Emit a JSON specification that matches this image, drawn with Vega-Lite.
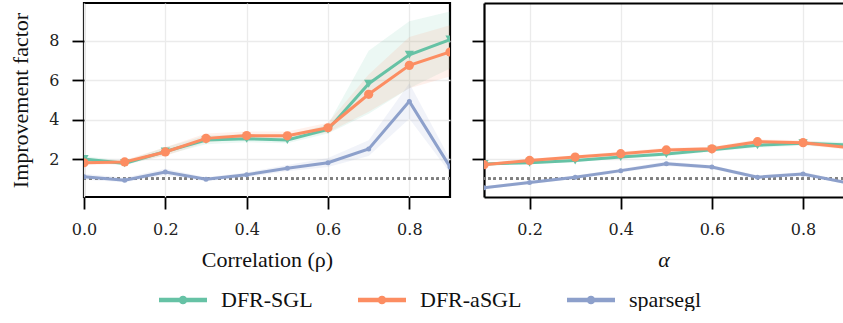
{
  "$schema": "https://vega.github.io/schema/vega-lite/v6.json",
  "padding": {"left": 8, "top": 1, "right": 0, "bottom": 0},
  "autosize": {"type": "pad"},
  "bounds": "flush",
  "spacing": 34,
  "config": {
    "font": "Liberation Serif",
    "view": {"stroke": "black", "strokeWidth": 2.2},
    "axis": {
      "domain": false, "grid": true, "gridColor": "#ebebeb", "gridWidth": 1.3,
      "tickColor": "black", "tickWidth": 1.8, "tickSize": 12,
      "labelFont": "DejaVu Serif", "labelFontSize": 16, "labelColor": "#222", "labelFlush": false,
      "titleFont": "Liberation Serif", "titleFontSize": 22, "titleFontWeight": "normal", "titleColor": "#111"
    }
  },
  "datasets": {
    "rho": [
      {"x": 0.0, "method": "DFR-SGL", "y": 2.0, "lo": 1.85, "hi": 2.15},
      {"x": 0.1, "method": "DFR-SGL", "y": 1.78, "lo": 1.68, "hi": 1.9},
      {"x": 0.2, "method": "DFR-SGL", "y": 2.38, "lo": 2.2, "hi": 2.6},
      {"x": 0.3, "method": "DFR-SGL", "y": 2.97, "lo": 2.75, "hi": 3.2},
      {"x": 0.4, "method": "DFR-SGL", "y": 3.03, "lo": 2.85, "hi": 3.25},
      {"x": 0.5, "method": "DFR-SGL", "y": 2.97, "lo": 2.8, "hi": 3.2},
      {"x": 0.6, "method": "DFR-SGL", "y": 3.5, "lo": 3.3, "hi": 3.75},
      {"x": 0.7, "method": "DFR-SGL", "y": 5.83, "lo": 4.3, "hi": 7.5},
      {"x": 0.8, "method": "DFR-SGL", "y": 7.3, "lo": 5.6, "hi": 9.0},
      {"x": 0.9, "method": "DFR-SGL", "y": 8.07, "lo": 6.6, "hi": 9.5},
      {"x": 0.0, "method": "DFR-aSGL", "y": 1.81, "lo": 1.7, "hi": 1.95},
      {"x": 0.1, "method": "DFR-aSGL", "y": 1.85, "lo": 1.75, "hi": 1.95},
      {"x": 0.2, "method": "DFR-aSGL", "y": 2.36, "lo": 2.15, "hi": 2.6},
      {"x": 0.3, "method": "DFR-aSGL", "y": 3.05, "lo": 2.85, "hi": 3.3},
      {"x": 0.4, "method": "DFR-aSGL", "y": 3.19, "lo": 3.0, "hi": 3.4},
      {"x": 0.5, "method": "DFR-aSGL", "y": 3.18, "lo": 3.0, "hi": 3.4},
      {"x": 0.6, "method": "DFR-aSGL", "y": 3.59, "lo": 3.35, "hi": 3.85},
      {"x": 0.7, "method": "DFR-aSGL", "y": 5.29, "lo": 4.4, "hi": 6.3},
      {"x": 0.8, "method": "DFR-aSGL", "y": 6.76, "lo": 5.6, "hi": 8.2},
      {"x": 0.9, "method": "DFR-aSGL", "y": 7.44, "lo": 6.2, "hi": 8.8},
      {"x": 0.0, "method": "sparsegl", "y": 1.1, "lo": 0.95, "hi": 1.25},
      {"x": 0.1, "method": "sparsegl", "y": 0.92, "lo": 0.82, "hi": 1.05},
      {"x": 0.2, "method": "sparsegl", "y": 1.34, "lo": 1.18, "hi": 1.5},
      {"x": 0.3, "method": "sparsegl", "y": 0.97, "lo": 0.87, "hi": 1.08},
      {"x": 0.4, "method": "sparsegl", "y": 1.2, "lo": 1.08, "hi": 1.32},
      {"x": 0.5, "method": "sparsegl", "y": 1.53, "lo": 1.38, "hi": 1.7},
      {"x": 0.6, "method": "sparsegl", "y": 1.81, "lo": 1.6, "hi": 2.05},
      {"x": 0.7, "method": "sparsegl", "y": 2.51, "lo": 2.15, "hi": 2.95},
      {"x": 0.8, "method": "sparsegl", "y": 4.93, "lo": 4.05, "hi": 5.85},
      {"x": 0.9, "method": "sparsegl", "y": 1.6, "lo": 1.3, "hi": 2.0}
    ],
    "alpha": [
      {"x": 0.1, "method": "DFR-SGL", "y": 1.75, "lo": 1.68, "hi": 1.83},
      {"x": 0.2, "method": "DFR-SGL", "y": 1.81, "lo": 1.73, "hi": 1.9},
      {"x": 0.3, "method": "DFR-SGL", "y": 1.93, "lo": 1.85, "hi": 2.02},
      {"x": 0.4, "method": "DFR-SGL", "y": 2.1, "lo": 2.01, "hi": 2.2},
      {"x": 0.5, "method": "DFR-SGL", "y": 2.25, "lo": 2.15, "hi": 2.36},
      {"x": 0.6, "method": "DFR-SGL", "y": 2.47, "lo": 2.37, "hi": 2.58},
      {"x": 0.7, "method": "DFR-SGL", "y": 2.7, "lo": 2.58, "hi": 2.82},
      {"x": 0.8, "method": "DFR-SGL", "y": 2.8, "lo": 2.68, "hi": 2.93},
      {"x": 0.9, "method": "DFR-SGL", "y": 2.72, "lo": 2.6, "hi": 2.85},
      {"x": 0.1, "method": "DFR-aSGL", "y": 1.71, "lo": 1.64, "hi": 1.79},
      {"x": 0.2, "method": "DFR-aSGL", "y": 1.93, "lo": 1.85, "hi": 2.02},
      {"x": 0.3, "method": "DFR-aSGL", "y": 2.1, "lo": 2.01, "hi": 2.19},
      {"x": 0.4, "method": "DFR-aSGL", "y": 2.27, "lo": 2.17, "hi": 2.37},
      {"x": 0.5, "method": "DFR-aSGL", "y": 2.46, "lo": 2.35, "hi": 2.57},
      {"x": 0.6, "method": "DFR-aSGL", "y": 2.52, "lo": 2.41, "hi": 2.63},
      {"x": 0.7, "method": "DFR-aSGL", "y": 2.88, "lo": 2.76, "hi": 3.0},
      {"x": 0.8, "method": "DFR-aSGL", "y": 2.83, "lo": 2.71, "hi": 2.95},
      {"x": 0.9, "method": "DFR-aSGL", "y": 2.58, "lo": 2.46, "hi": 2.7},
      {"x": 0.1, "method": "sparsegl", "y": 0.54, "lo": 0.47, "hi": 0.62},
      {"x": 0.2, "method": "sparsegl", "y": 0.81, "lo": 0.73, "hi": 0.9},
      {"x": 0.3, "method": "sparsegl", "y": 1.07, "lo": 0.98, "hi": 1.16},
      {"x": 0.4, "method": "sparsegl", "y": 1.41, "lo": 1.31, "hi": 1.51},
      {"x": 0.5, "method": "sparsegl", "y": 1.76, "lo": 1.65, "hi": 1.87},
      {"x": 0.6, "method": "sparsegl", "y": 1.59, "lo": 1.49, "hi": 1.69},
      {"x": 0.7, "method": "sparsegl", "y": 1.08, "lo": 0.99, "hi": 1.17},
      {"x": 0.8, "method": "sparsegl", "y": 1.24, "lo": 1.14, "hi": 1.34},
      {"x": 0.9, "method": "sparsegl", "y": 0.78, "lo": 0.7, "hi": 0.86}
    ]
  },
  "hconcat": [
    {
      "width": 366,
      "height": 194,
      "data": {"name": "rho"},
      "layer": [
        {
          "mark": {"type": "area", "opacity": 0.12, "clip": true},
          "encoding": {
            "x": {"field": "x", "type": "quantitative", "scale": {"domain": [0, 0.9], "nice": false, "zero": false},
                  "axis": {"values": [0, 0.2, 0.4, 0.6, 0.8], "format": ".1f", "title": "Correlation (ρ)", "titlePadding": 12, "labelPadding": 12, "labelFont": "DejaVu Serif"}},
            "y": {"field": "lo", "type": "quantitative", "stack": null, "scale": {"domain": [0.07, 9.93], "nice": false, "zero": false},
                  "axis": {"values": [2, 4, 6, 8], "title": "Improvement factor", "titlePadding": 16, "labelPadding": 13, "labelFont": "DejaVu Serif"}},
            "y2": {"field": "hi"},
            "color": {"field": "method", "type": "nominal", "scale": {"domain": ["DFR-SGL", "DFR-aSGL", "sparsegl"], "range": ["#66c2a5", "#fc8d62", "#8da0cb"]},
              "legend": {
                "orient": "bottom", "direction": "horizontal", "offset": 4,
                "title": " ", "titleOrient": "left", "titlePadding": 75, "titleFontSize": 22,
                "symbolType": "M-1,-0.09H1V0.09H-1ZM-0.18,0A0.18,0.18,0,1,1,0.18,0A0.18,0.18,0,1,1,-0.18,0Z",
                "symbolSize": 2304, "symbolOpacity": 1, "symbolStrokeWidth": 0,
                "labelFontSize": 22, "labelFont": "Liberation Serif", "labelColor": "#111",
                "labelOffset": 14, "columnPadding": 45, "padding": 0
              }
            }
          }
        },
        {
          "mark": {"type": "rule", "color": "#808080", "strokeWidth": 2, "strokeDash": [2, 3.6]},
          "encoding": {"y": {"datum": 1}}
        },
        {
          "mark": {"type": "line", "strokeWidth": 3, "clip": true},
          "encoding": {
            "x": {"field": "x", "type": "quantitative"},
            "y": {"field": "y", "type": "quantitative"},
            "color": {"field": "method", "type": "nominal"}
          }
        },
        {
          "mark": {"type": "point", "filled": true, "opacity": 1, "clip": true},
          "encoding": {
            "x": {"field": "x", "type": "quantitative"},
            "y": {"field": "y", "type": "quantitative"},
            "color": {"field": "method", "type": "nominal"},
            "shape": {"condition": {"test": "datum.method === 'DFR-SGL'", "value": "triangle-down"}, "value": "circle"},
            "size": {"condition": {"test": "datum.method === 'sparsegl'", "value": 25}, "value": 85}
          }
        }
      ]
    },
    {
      "width": 359,
      "height": 194,
      "view": {"stroke": null},
      "data": {"name": "alpha"},
      "layer": [
        {
          "mark": {"type": "area", "opacity": 0.12, "clip": true},
          "encoding": {
            "x": {"field": "x", "type": "quantitative", "scale": {"domain": [0.1, 0.8876], "nice": false, "zero": false},
                  "axis": {"values": [0.2, 0.4, 0.6, 0.8], "format": ".1f", "title": "α", "titleFontStyle": "italic", "titlePadding": 12, "labelPadding": 12, "labelFont": "DejaVu Serif", "domain": true, "domainColor": "black", "domainWidth": 2.2}},
            "y": {"field": "lo", "type": "quantitative", "stack": null, "scale": {"domain": [0.07, 9.93], "nice": false, "zero": false},
                  "axis": {"values": [2, 4, 6, 8, 9.93], "labels": false, "title": null, "domain": true, "domainColor": "black", "domainWidth": 2.2,
                           "gridColor": {"condition": {"test": "datum.value > 9", "value": "black"}, "value": "#ebebeb"},
                           "gridWidth": {"condition": {"test": "datum.value > 9", "value": 2.2}, "value": 1.3},
                           "tickOpacity": {"condition": {"test": "datum.value > 9", "value": 0}, "value": 1}}},
            "y2": {"field": "hi"},
            "color": {"field": "method", "type": "nominal"}
          }
        },
        {
          "mark": {"type": "rule", "color": "#808080", "strokeWidth": 2, "strokeDash": [2, 3.6]},
          "encoding": {"y": {"datum": 1}}
        },
        {
          "mark": {"type": "line", "strokeWidth": 3, "clip": true},
          "encoding": {
            "x": {"field": "x", "type": "quantitative"},
            "y": {"field": "y", "type": "quantitative"},
            "color": {"field": "method", "type": "nominal"}
          }
        },
        {
          "mark": {"type": "point", "filled": true, "opacity": 1, "clip": true},
          "encoding": {
            "x": {"field": "x", "type": "quantitative"},
            "y": {"field": "y", "type": "quantitative"},
            "color": {"field": "method", "type": "nominal"},
            "shape": {"condition": {"test": "datum.method === 'DFR-SGL'", "value": "triangle-down"}, "value": "circle"},
            "size": {"condition": {"test": "datum.method === 'sparsegl'", "value": 25}, "value": 85}
          }
        }
      ]
    }
  ]
}
